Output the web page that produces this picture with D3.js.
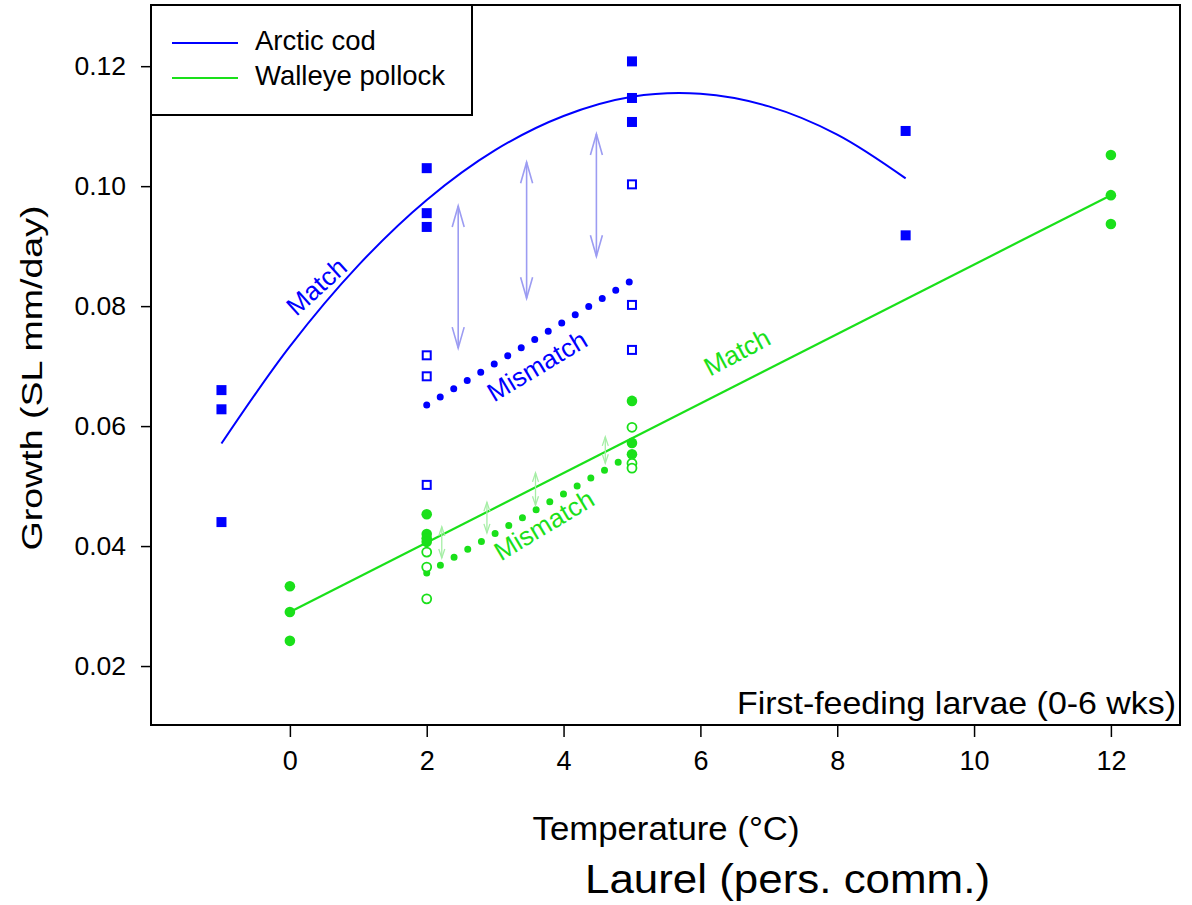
<!DOCTYPE html>
<html><head><meta charset="utf-8">
<script src="https://cdn.jsdelivr.net/npm/d3@7"></script>
<style>body{margin:0;background:#fff}svg{display:block}text{font-family:Arial,"Liberation Sans",sans-serif}</style>
</head><body>
<svg id="c" width="1192" height="905"></svg>
<script>
// ---- data ----
const xTicks = [0, 2, 4, 6, 8, 10, 12];
const yTicks = [0.02, 0.04, 0.06, 0.08, 0.10, 0.12];
const codMatch = [[-1,0.0660],[-1,0.0628],[-1,0.0440],[2,0.1030],[2,0.0955],[2,0.0932],[5,0.1208],[5,0.1147],[5,0.1107],[9,0.1092],[9,0.0918]];
const codMismatch = [[2,0.0718],[2,0.0683],[2,0.0502],[5,0.1003],[5,0.0802],[5,0.0727]];
const pollMatch = [[0,0.0333],[0,0.0290],[0,0.0242],[2,0.0453],[2,0.0420],[2,0.0413],[2,0.0407],[5,0.0642],[5,0.0572],[5,0.0553],[12,0.1052],[12,0.0985],[12,0.0937]];
const pollMismatch = [[2,0.0390],[2,0.0365],[2,0.0312],[5,0.0598],[5,0.0538],[5,0.0530]];
const codCurve = [[-1,0.0571],[0,0.0733],[1,0.0868],[2,0.0977],[3,0.1060],[4,0.1117],[5,0.1149],[6,0.1154],[7,0.1133],[8,0.1086],[9,0.1013]];
const pollLine = [[0,0.0290],[12,0.0985]];
const codMismatchLine = [[2,0.0635],[5,0.0843]];
const pollMismatchLine = [[2,0.0355],[5,0.0553]];
const codArrows = [[2.46,0.0967,0.0730],[3.46,0.1040,0.0813],[4.48,0.1087,0.0883]];
const pollArrows = [[2.22,0.0432,0.0380],[2.88,0.0473,0.0422],[3.59,0.0522,0.0468],[4.61,0.0582,0.0538]];
const seriesNames = ["Arctic cod", "Walleye pollock"];

const BLUE = "#0000ff", GREEN = "#1ae01a";
const svg = d3.select("#c");
const xs = d3.scaleLinear().domain([-2.03, 13.01]).range([151, 1180]);
const ys = d3.scaleLinear().domain([0.01017, 0.1302]).range([725, 5]);
const line = d3.line().x(d => xs(d[0])).y(d => ys(d[1]));

// axes
const xAxis = svg.append("g").attr("transform", "translate(0,725)")
  .call(d3.axisBottom(xs).tickValues(xTicks).tickSize(12).tickPadding(8).tickFormat(d3.format("d")));
xAxis.select(".domain").remove();
xAxis.selectAll("line").attr("stroke", "#000").attr("stroke-width", 1.5);
xAxis.selectAll("text").attr("font-size", 27).attr("fill", "#000").attr("dy", "0.92em");
const yAxis = svg.append("g").attr("transform", "translate(151,0)")
  .call(d3.axisLeft(ys).tickValues(yTicks).tickSize(10).tickPadding(15).tickFormat(d3.format(".2f")));
yAxis.select(".domain").remove();
yAxis.selectAll("line").attr("stroke", "#000").attr("stroke-width", 1.5);
yAxis.selectAll("text").attr("font-size", 26.5).attr("fill", "#000");

// box
svg.append("rect").attr("x", 151).attr("y", 5).attr("width", 1029).attr("height", 720)
  .attr("fill", "none").attr("stroke", "#000").attr("stroke-width", 2);

// fits
svg.append("path").datum(codCurve).attr("d", line.curve(d3.curveCatmullRom)).attr("fill", "none").attr("stroke", BLUE).attr("stroke-width", 2);
line.curve(d3.curveLinear);
svg.append("path").datum(pollLine).attr("d", line).attr("fill", "none").attr("stroke", GREEN).attr("stroke-width", 2.2);
svg.append("path").datum(codMismatchLine).attr("d", line).attr("fill", "none").attr("stroke", BLUE)
  .attr("stroke-width", 7).attr("stroke-linecap", "round").attr("stroke-dasharray", "0,15.8");
svg.append("path").datum(pollMismatchLine).attr("d", line).attr("fill", "none").attr("stroke", GREEN)
  .attr("stroke-width", 7).attr("stroke-linecap", "round").attr("stroke-dasharray", "0,15.8");

// arrows
function arrows(data, color, len, half, w) {
  const g = svg.append("g").attr("stroke", color).attr("stroke-width", w).attr("fill", "none");
  data.forEach(a => {
    const x = xs(a[0]), y1 = ys(a[1]), y2 = ys(a[2]);
    g.append("line").attr("x1", x).attr("x2", x).attr("y1", y1).attr("y2", y2);
    g.append("path").attr("d", `M${x-half},${y1+len}L${x},${y1}L${x+half},${y1+len}`);
    g.append("path").attr("d", `M${x-half},${y2-len}L${x},${y2}L${x+half},${y2-len}`);
  });
}
arrows(codArrows, "#9c9cf2", 21, 6, 1.6);
arrows(pollArrows, "#a6eea6", 9, 3, 1.3);

// points
const s = 10;
svg.append("g").selectAll("rect").data(codMatch).join("rect")
  .attr("x", d => xs(d[0]) - s/2).attr("y", d => ys(d[1]) - s/2).attr("width", s).attr("height", s).attr("fill", BLUE);
svg.append("g").selectAll("rect").data(codMismatch).join("rect")
  .attr("x", d => xs(d[0]) - 4).attr("y", d => ys(d[1]) - 4).attr("width", 8).attr("height", 8)
  .attr("fill", "#fff").attr("stroke", BLUE).attr("stroke-width", 2);
svg.append("g").selectAll("circle").data(pollMatch).join("circle")
  .attr("cx", d => xs(d[0])).attr("cy", d => ys(d[1])).attr("r", 5.3).attr("fill", GREEN);
svg.append("g").selectAll("circle").data(pollMismatch).join("circle")
  .attr("cx", d => xs(d[0])).attr("cy", d => ys(d[1])).attr("r", 4.5)
  .attr("fill", "#fff").attr("stroke", GREEN).attr("stroke-width", 1.8);

// annotations
function label(t, x, y, ang, color) {
  svg.append("text").attr("transform", `translate(${xs(x)},${ys(y)}) rotate(${ang})`)
    .attr("text-anchor", "middle").attr("dominant-baseline", "middle")
    .attr("font-size", 26).attr("fill", color).text(t);
}
label("Match", 0.41, 0.0830, -42, BLUE);
label("Mismatch", 3.63, 0.0697, -31, BLUE);
label("Match", 6.55, 0.0720, -28, GREEN);
label("Mismatch", 3.73, 0.0432, -31, GREEN);

svg.append("text").attr("x", 1176).attr("y", 714).attr("text-anchor", "end").attr("font-size", 32)
  .attr("textLength", 439).attr("lengthAdjust", "spacingAndGlyphs").text("First-feeding larvae (0-6 wks)");

// legend
const lg = svg.append("g");
lg.append("rect").attr("x", 151).attr("y", 5).attr("width", 321).attr("height", 110)
  .attr("fill", "#fff").attr("stroke", "#000").attr("stroke-width", 2);
seriesNames.forEach((n, i) => {
  const y = 43 + i * 35;
  lg.append("line").attr("x1", 172).attr("x2", 238).attr("y1", y).attr("y2", y)
    .attr("stroke", i ? GREEN : BLUE).attr("stroke-width", 2);
  lg.append("text").attr("x", 255).attr("y", y).attr("dominant-baseline", "middle")
    .attr("font-size", 27.5).text(n);
});

// axis titles
svg.append("text").attr("x", 666).attr("y", 840).attr("text-anchor", "middle").attr("font-size", 34)
  .attr("textLength", 267).attr("lengthAdjust", "spacingAndGlyphs").text("Temperature (°C)");
svg.append("text").attr("transform", "translate(42,378) rotate(-90)").attr("text-anchor", "middle")
  .attr("font-size", 30).attr("textLength", 345).attr("lengthAdjust", "spacingAndGlyphs").text("Growth (SL mm/day)");
svg.append("text").attr("x", 585).attr("y", 893).attr("font-family", "Lato, 'Open Sans', sans-serif")
  .attr("font-size", 40).attr("textLength", 405).attr("lengthAdjust", "spacingAndGlyphs").text("Laurel (pers. comm.)");
</script>
</body></html>
